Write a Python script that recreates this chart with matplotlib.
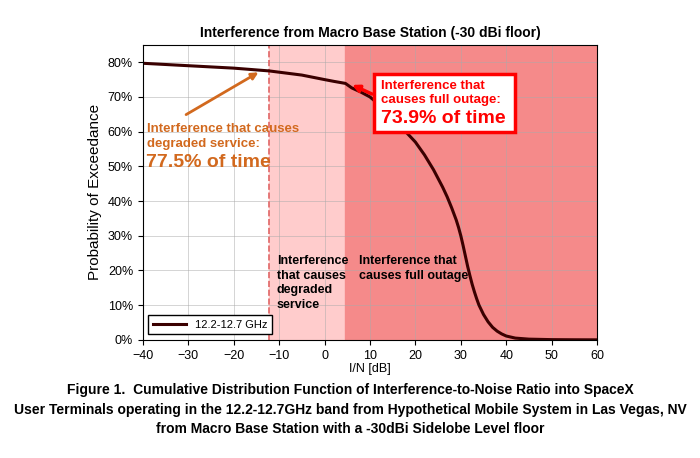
import matplotlib.pyplot as plt
from matplotlib.patches import Rectangle

plt.rcParams['font.family'] = ['Liberation Sans', 'DejaVu Sans']

x_vals = [-40, -30, -20, -12.2, -5, 0, 2, 4.6, 6, 8, 10, 12, 15, 18, 20, 22, 24, 25, 26, 27, 28, 29, 29.5, 30,
          30.5, 31, 31.5, 32, 32.5, 33, 33.5, 34, 35, 36, 37, 38, 39, 40, 42, 45, 50, 55, 60]
p_vals = [79.7, 79.0, 78.3, 77.5, 76.3, 75.0, 74.5, 73.9, 72.6, 71.4, 70.0, 67.8, 64.0, 59.8, 57.0, 53.3, 49.0, 46.5, 44.0, 41.2, 38.0, 34.5, 32.4, 30.0,
          27.2, 24.2, 21.2, 18.5, 16.0, 13.8, 11.8, 10.0, 7.3, 5.2, 3.6, 2.5, 1.7, 1.1, 0.5, 0.2, 0.06, 0.02, 0.0]
degraded_x = -12.2
outage_x = 4.6

fig = plt.figure(figsize=(7, 4.58), dpi=100)
ax = fig.add_axes([0.204, 0.258, 0.649, 0.644])
ax.axvspan(degraded_x, outage_x, color='#ffcccc', zorder=0)
ax.axvspan(outage_x, 60, color='#f58a8a', zorder=0)
ax.axvline(degraded_x, color='#e06666', ls='--', lw=1.2)
ax.plot(x_vals, p_vals, color='#3a0000', lw=2.2, label='12.2-12.7 GHz', solid_joinstyle='round')
ax.set_xlim(-40, 60)
ax.set_ylim(0, 85)
ax.set_xticks(range(-40, 61, 10))
ax.set_yticks(range(0, 81, 10))
ax.set_yticklabels([f'{v}%' for v in range(0, 81, 10)])
ax.grid(True, color='#aaaaaa', lw=0.5, alpha=0.7)
ax.tick_params(labelsize=9)
ax.set_xlabel('I/N [dB]', fontsize=9, labelpad=1)
ax.set_ylabel('Probability of Exceedance', fontsize=11)
ax.set_title('Interference from Macro Base Station (-30 dBi floor)', fontsize=10, fontweight='bold')
ax.legend(loc='lower left', fontsize=8, fancybox=False, edgecolor='black', handlelength=3, framealpha=1)

orange = '#d2691e'
ax.text(-39, 62.5, 'Interference that causes\ndegraded service:', color=orange, fontsize=9.5, fontweight='bold',
        va='top', linespacing=1.3)
ax.text(-39.3, 53.5, '77.5% of time', color=orange, fontsize=14, fontweight='bold', va='top')
ax.annotate('', xy=(-14, 77.5), xytext=(-31, 64.5), arrowprops=dict(arrowstyle='-|>', color=orange, lw=2))

ax.add_patch(Rectangle((11, 59.8), 31, 16.8, fc='white', ec='red', lw=2.5, zorder=3))
ax.text(12.5, 75, 'Interference that\ncauses full outage:', color='red', fontsize=9.5, fontweight='bold',
        va='top', zorder=4, linespacing=1.3)
ax.text(12.5, 61.2, '73.9% of time', color='red', fontsize=14, fontweight='bold', va='bottom', zorder=4)
ax.annotate('', xy=(5.5, 73.8), xytext=(11, 70.5), arrowprops=dict(arrowstyle='-|>', color='red', lw=2.5), zorder=4)

ax.text(-10.5, 24.5, 'Interference\nthat causes\ndegraded\nservice', fontsize=9, fontweight='bold', va='top', linespacing=1.3)
ax.text(7.5, 24.5, 'Interference that\ncauses full outage', fontsize=9, fontweight='bold', va='top', linespacing=1.3)

fig.text(0.5, 0.105, 'Figure 1.  Cumulative Distribution Function of Interference-to-Noise Ratio into SpaceX\n'
         'User Terminals operating in the 12.2-12.7GHz band from Hypothetical Mobile System in Las Vegas, NV\n'
         'from Macro Base Station with a -30dBi Sidelobe Level floor',
         ha='center', va='center', fontsize=10, fontweight='bold', linespacing=1.5)
fig.savefig('out.png')
